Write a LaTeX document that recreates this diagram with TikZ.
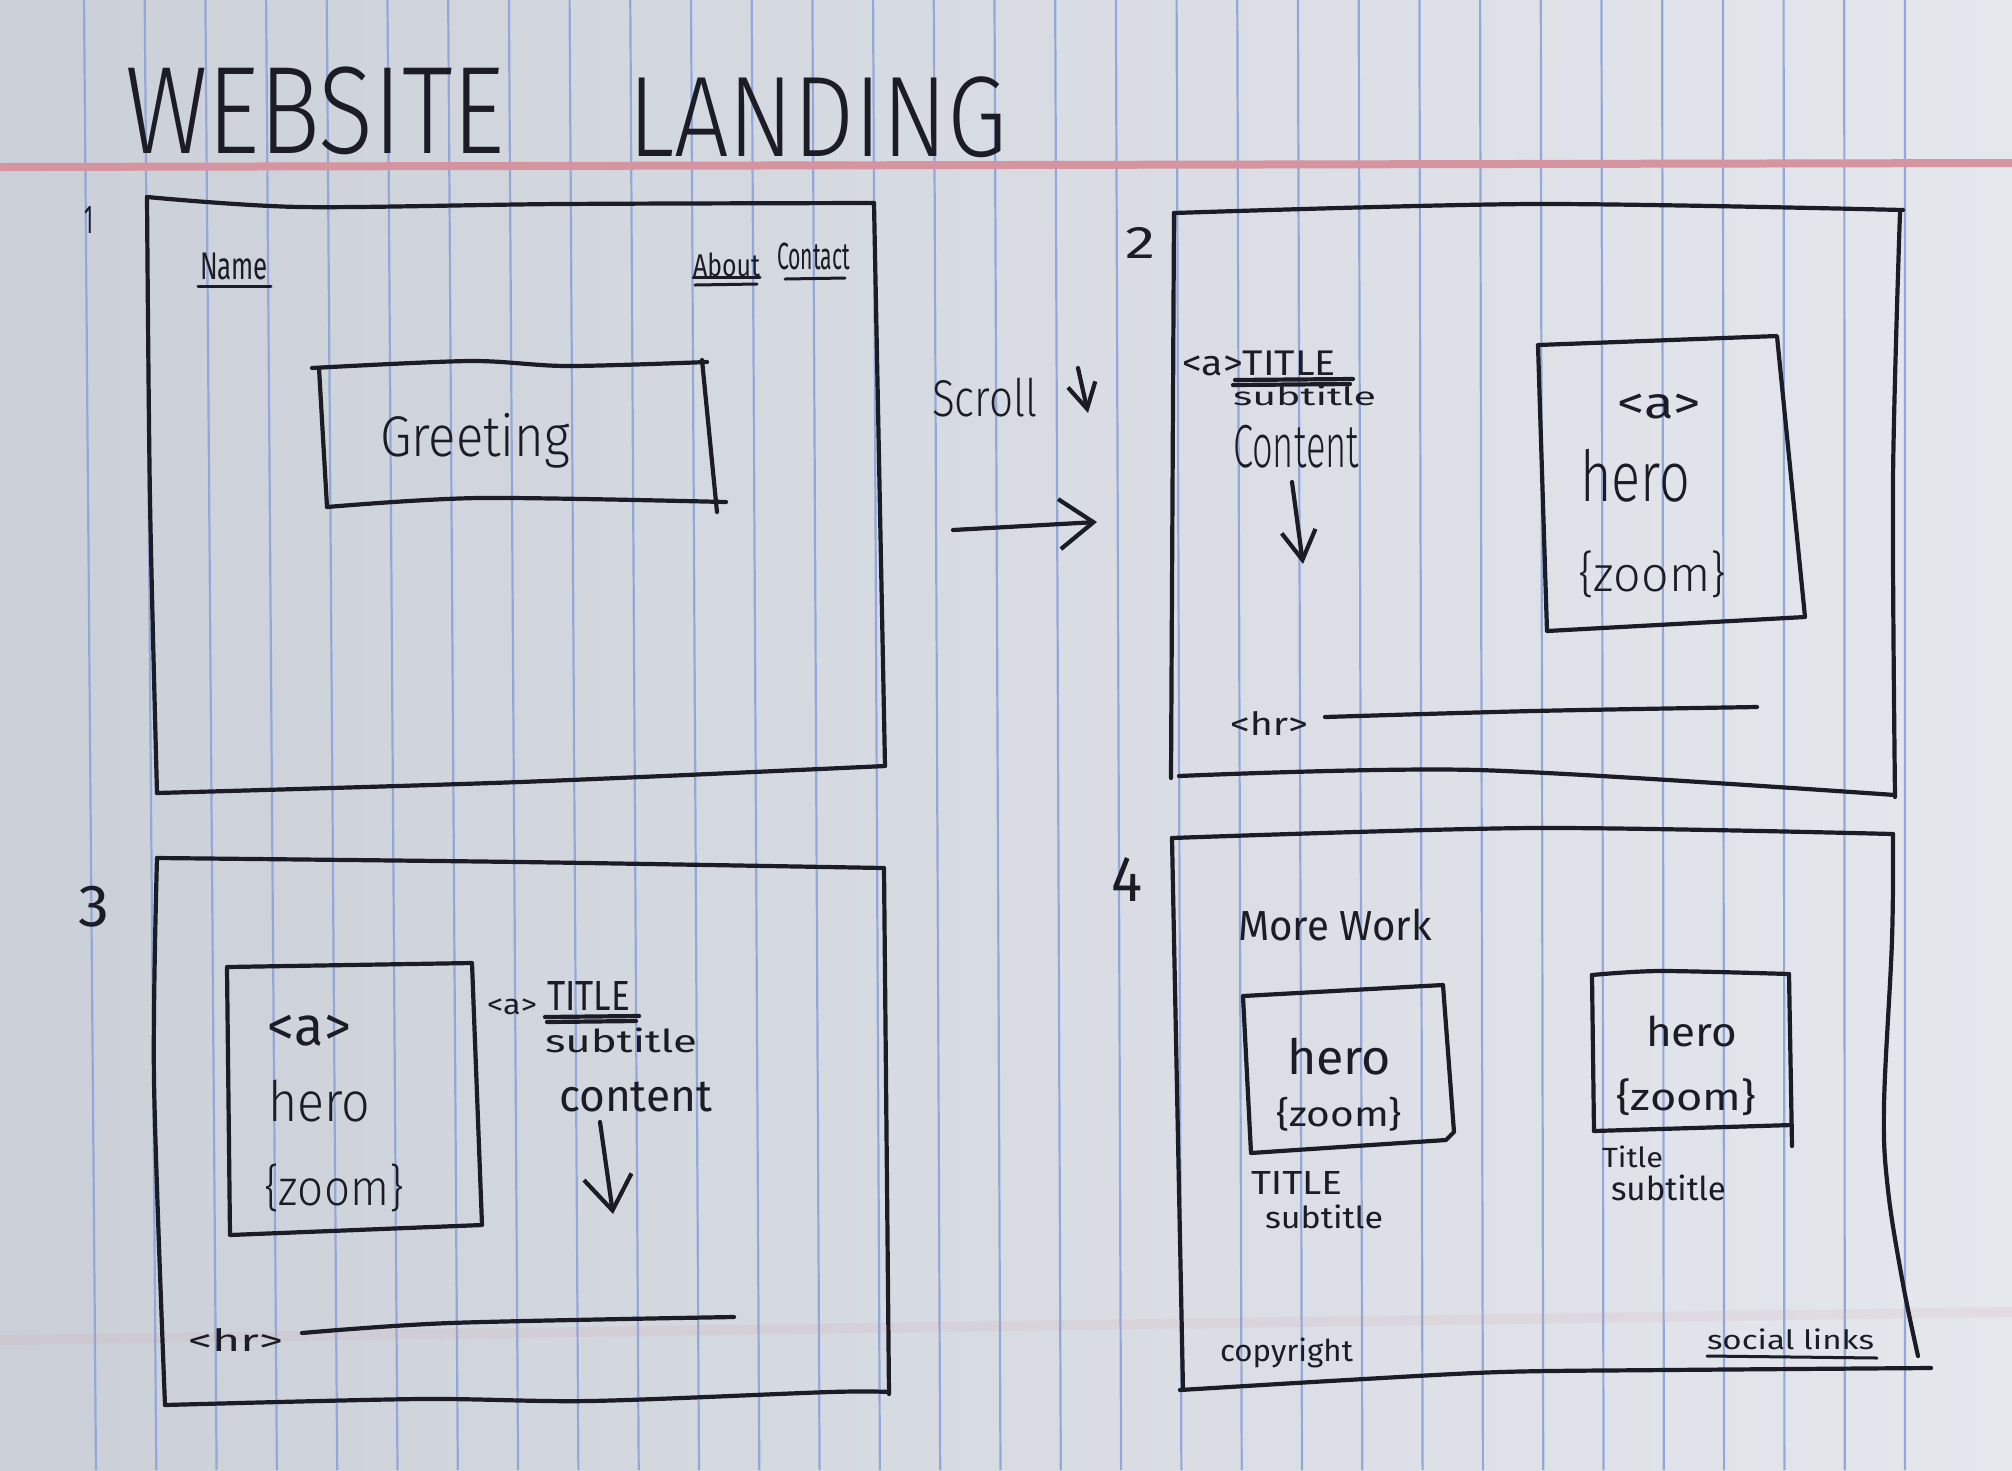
\documentclass[tikz,border=0pt]{standalone}
\usepackage{fontspec}
\usepackage{graphicx}
\usetikzlibrary{arrows.meta}
\newfontfamily\hand{Fira Sans Light}
\newfontfamily\handb{Fira Sans}
% one drawing unit = 0.1 mm
\newlength\pxu
\setlength\pxu{0.1mm}
% handwritten-style labels squeezed into a given width and total height
\newcommand\hw[3]{\resizebox*{#1\pxu}{#2\pxu}{\hand #3}}
\newcommand\hwb[3]{\resizebox*{#1\pxu}{#2\pxu}{\handb #3}}

\definecolor{ink}{HTML}{1B1C26}
\definecolor{rule}{RGB}{146,168,218}
\definecolor{margin}{RGB}{214,148,160}
\definecolor{paperL}{RGB}{203,208,216}
\definecolor{paperR}{RGB}{228,231,236}

\begin{document}
\begin{tikzpicture}[x=0.1mm,y=-0.1mm,
  pen/.style={draw=ink, line width=0.42mm, line cap=round, line join=round},
  finepen/.style={draw=ink, line width=0.3mm, line cap=round, line join=round},
  lbl/.style={inner sep=0pt, outer sep=0pt, anchor=north west, text=ink}]

% ---- sheet of ruled paper ----
\useasboundingbox (0,0) rectangle (2012,1470);
\fill[left color=paperL, right color=paperR] (0,0) rectangle (2012,1470);
\foreach \k in {0,...,30}
  \draw[rule, line width=0.22mm] ({84+60.7*\k},0) -- ({96+60.3*\k},1470);
\draw[margin, line width=0.8mm] (0,167) -- (2012,163);
\draw[margin, opacity=0.12, line width=1mm] (0,1340) -- (2012,1312);

% ---- heading ----
\node[lbl] (webT) at (125,67) {\hw{380}{88}{WEBSITE}};
\node[lbl] (landT) at (628,77) {\hw{379}{81}{LANDING}};

% ---- frame 1 : greeting ----
\node[lbl] (n1) at (84,206) {\hwb{9}{27}{1}};
\draw[pen] plot[smooth, tension=0.5] coordinates {(147,197) (300,207) (560,204) (874,203)};
\draw[pen] (874,203) -- (885,766);
\draw[pen] plot[smooth, tension=0.5] coordinates {(157,793) (520,782) (885,766)};
\draw[pen] plot[smooth, tension=0.5] coordinates {(147,197) (150,500) (157,793)};
\node[lbl] (navName) at (200,253) {\hwb{68}{27}{Name}};
\draw[finepen] (198,286) -- (271,286);
\node[lbl] (navAbout) at (693,253) {\hwb{67}{24}{About}};
\draw[finepen] (693,277) -- (760,277);
\draw[finepen] (695,285) -- (757,284);
\node[lbl] (navContact) at (777,243) {\hwb{73}{27}{Contact}};
\draw[finepen] (785,279) -- (845,278);
\draw[pen] plot[smooth, tension=0.5] coordinates {(312,368) (470,361) (567,366) (707,362)};
\draw[pen] (702,360) -- (717,512);
\draw[pen] plot[smooth, tension=0.5] coordinates {(327,507) (479,498) (726,502)};
\draw[pen] (319,368) -- (327,507);
\node[lbl] (greet) at (380,413) {\hw{190}{55}{Greeting}};

% ---- scroll hint ----
\node[lbl] (scroll) at (932,378) {\hw{105}{39}{Scroll}};
\coordinate (scrollTop) at (1078,368);
\coordinate (scrollTip) at (1088,413);
\draw[pen, -{Straight Barb[length=2.5mm, width=2.8mm]}] (scrollTop) -- (scrollTip);
\coordinate (flowFrom) at (953,530);
\coordinate (flowTo) at (1097,522);
\draw[pen, -{Straight Barb[length=3.4mm, width=5mm]}] (flowFrom) -- (flowTo);

% ---- frame 2 : first project ----
\node[lbl] (n2) at (1125,227) {\hwb{30}{31}{2}};
\draw[pen] plot[smooth, tension=0.5] coordinates {(1174,213) (1533,204) (1903,210)};
\draw[pen] plot[smooth, tension=0.5] coordinates {(1900,212) (1893,480) (1895,797)};
\draw[pen] plot[smooth, tension=0.5] coordinates {(1179,776) (1477,770) (1895,795)};
\draw[pen] (1174,213) -- (1171,778);
\node[lbl] (tTitle2) at (1182,351) {\hwb{154}{25}{<a>TITLE}};
\node[lbl] (tSub2) at (1233,386) {\hwb{143}{20}{subtitle}};
\draw[pen] (1235,380) -- (1353,379);
\draw[pen] (1233,385) -- (1350,384);
\node[lbl] (tCont2) at (1233,425) {\hw{126}{43}{Content}};
\coordinate (cont2Top) at (1292,482);
\coordinate (cont2Tip) at (1303,564);
\draw[pen, -{Straight Barb[length=2.9mm, width=3.4mm]}] (cont2Top) -- (cont2Tip);
\draw[pen] (1538,345) -- (1777,336) -- (1805,617) -- (1547,631) -- cycle;
\node[lbl] (hA2) at (1617,394) {\hwb{84}{25}{<a>}};
\node[lbl] (hHero2) at (1580,449) {\hw{110}{53}{hero}};
\node[lbl] (hZoom2) at (1578,551) {\hw{148}{47}{\{zoom\}}};
\node[lbl] (hr2) at (1230,711) {\hwb{78}{24}{<hr>}};
\draw[pen] plot[smooth, tension=0.5] coordinates {(1325,717) (1533,711) (1757,707)};

% ---- frame 3 : second project ----
\node[lbl] (n3) at (79,886) {\hwb{31}{41}{3}};
\draw[pen] plot[smooth, tension=0.5] coordinates {(157,858) (520,862) (884,868)};
\draw[pen] (884,868) -- (889,1394);
\draw[pen] plot[smooth, tension=0.5] coordinates {(165,1405) (420,1399) (590,1401) (830,1392) (889,1392)};
\draw[pen] plot[smooth, tension=0.5] coordinates {(157,858) (154,1080) (165,1405)};
\draw[pen] (227,967) -- (472,963) -- (482,1225) -- (230,1235) -- cycle;
\node[lbl] (hA3) at (268,1015) {\hwb{83}{31}{<a>}};
\node[lbl] (hHero3) at (268,1080) {\hw{102}{42}{hero}};
\node[lbl] (hZoom3) at (264,1164) {\hw{140}{48}{\{zoom\}}};
\node[lbl] (tA3) at (487,999) {\hwb{50}{16}{<a>}};
\node[lbl] (tTitle3) at (547,981) {\hwb{83}{29}{TITLE}};
\draw[pen] (545,1017) -- (639,1016);
\draw[pen] (547,1022) -- (636,1021);
\node[lbl] (tSub3) at (545,1028) {\hwb{152}{25}{subtitle}};
\node[lbl] (tCont3) at (559,1082) {\hwb{153}{30}{content}};
\coordinate (cont3Top) at (600,1122);
\coordinate (cont3Tip) at (613,1214);
\draw[pen, -{Straight Barb[length=3.4mm, width=4.8mm]}] (cont3Top) -- (cont3Tip);
\node[lbl] (hr3) at (188,1328) {\hwb{95}{23}{<hr>}};
\draw[pen] plot[smooth, tension=0.5] coordinates {(302,1333) (450,1323) (734,1317)};

% ---- frame 4 : more work and footer ----
\node[lbl] (n4) at (1111,857) {\hwb{31}{44}{4}};
\draw[pen] plot[smooth, tension=0.5] coordinates {(1172,838) (1534,828) (1893,834)};
\draw[pen] plot[smooth, tension=0.6] coordinates
  {(1893,834) (1892,940) (1884,1106) (1888,1190) (1903,1284) (1918,1356)};
\draw[pen] plot[smooth, tension=0.5] coordinates
  {(1180,1390) (1347,1380) (1501,1372) (1668,1370) (1931,1368)};
\draw[pen] (1172,838) -- (1183,1390);
\node[lbl] (more) at (1238,909) {\hwb{194}{32}{More Work}};
\draw[pen] (1243,996) -- (1443,985) -- (1454,1132) -- (1446,1140) -- (1251,1153) -- cycle;
\node[lbl] (hHero4a) at (1287,1038) {\hwb{104}{37}{hero}};
\node[lbl] (hZoom4a) at (1276,1097) {\hwb{126}{34}{\{zoom\}}};
\node[lbl] (tTitle4a) at (1251,1171) {\hwb{91}{23}{TITLE}};
\node[lbl] (tSub4a) at (1265,1205) {\hwb{118}{24}{subtitle}};
\draw[pen] plot[smooth, tension=0.5] coordinates {(1592,975) (1660,971) (1789,974)};
\draw[pen] (1789,974) -- (1792,1146);
\draw[pen] (1594,1131) -- (1792,1125);
\draw[pen] (1592,975) -- (1594,1131);
\node[lbl] (hHero4b) at (1646,1016) {\hwb{91}{31}{hero}};
\node[lbl] (hZoom4b) at (1616,1079) {\hwb{140}{37}{\{zoom\}}};
\node[lbl] (tTitle4b) at (1602,1146) {\hwb{61}{22}{Title}};
\node[lbl] (tSub4b) at (1611,1175) {\hwb{115}{26}{subtitle}};
\node[lbl] (copy) at (1220,1338) {\hwb{133}{30}{copyright}};
\node[lbl] (social) at (1707,1329) {\hwb{167}{21}{social links}};
\draw[finepen] (1707,1356) -- (1877,1358);

\end{tikzpicture}
\end{document}
